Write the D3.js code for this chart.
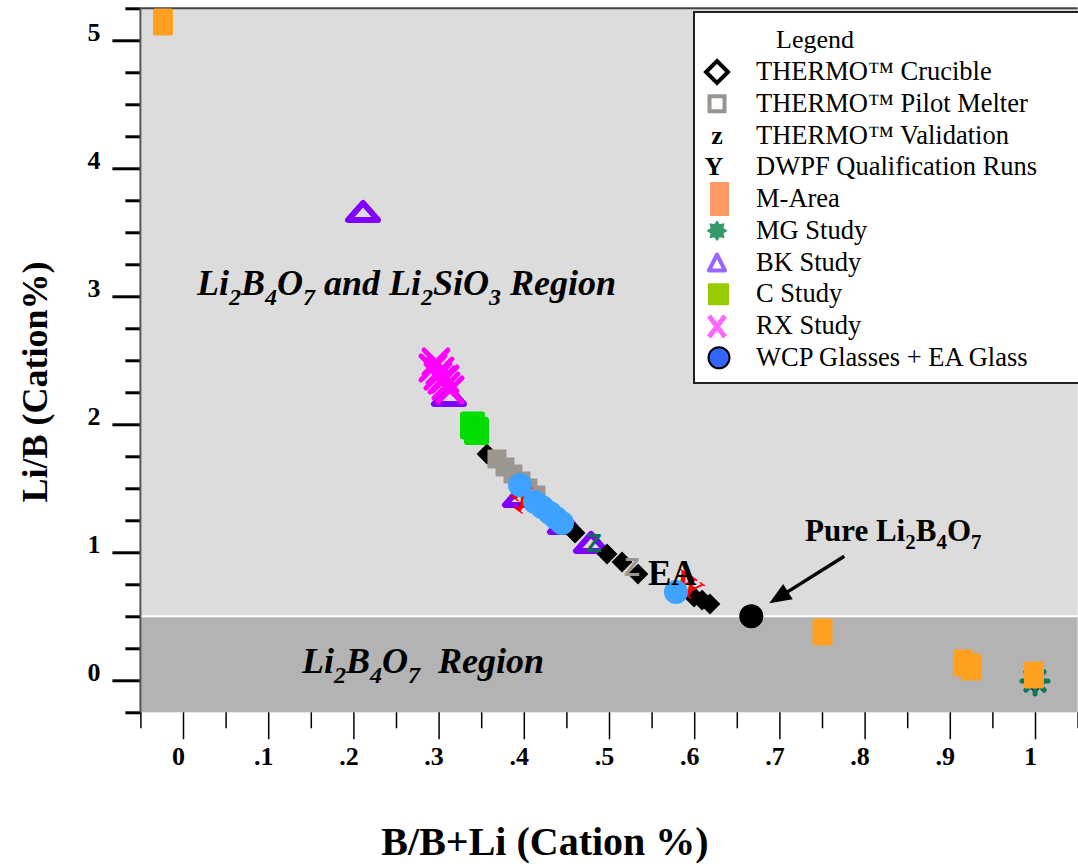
<!DOCTYPE html>
<html>
<head>
<meta charset="utf-8">
<script src="https://cdn.jsdelivr.net/npm/d3@7"></script>
<style>
  html, body { margin: 0; padding: 0; background: #fff; }
  svg { display: block; }
  svg text { font-family: "Liberation Serif", "Times New Roman", serif; }
  svg text.sans { font-family: "Liberation Sans", Arial, sans-serif; }
</style>
</head>
<body>
<svg id="chart" width="1078" height="867"></svg>
<script>
// ---- data: [B/(B+Li), Li/B] in cation % ----
const thermoCrucible = [
  [0.3568, 1.768], [0.4601, 1.151], [0.4977, 0.987], [0.5153, 0.924],
  [0.5340, 0.830], [0.5998, 0.651], [0.6092, 0.627], [0.6185, 0.596], [1.000, -0.020]
];
const thermoPilotMelter = [
  [0.3685, 1.729], [0.3779, 1.667], [0.3873, 1.612], [0.3967, 1.557], [0.4049, 1.502], [0.4143, 1.448]
];
const thermoValidationGrey = [[0.5270, 0.885]];
const thermoValidationTeal = [[0.4824, 1.073]];
const dwpfQualification = [[0.3955, 1.487], [0.4002, 1.393], [0.5880, 0.768], [0.5974, 0.729]];
const mArea = [[-0.0235, 5.143], [0.7506, 0.377], [0.9155, 0.135], [0.9249, 0.104], [0.9988, 0.041]];
const mgStudy = [[1.000, -0.005]];
const bkStudy = [[0.2113, 3.659], [0.3122, 2.221], [0.3955, 1.432], [0.4484, 1.221], [0.4789, 1.073]];
const cStudy = [[0.3398, 1.991], [0.3445, 1.948]];
const rxStudy = [
  [0.2969, 2.487], [0.2934, 2.440], [0.3016, 2.416], [0.2993, 2.377],
  [0.3040, 2.346], [0.3075, 2.354], [0.3087, 2.299], [0.3134, 2.268]
];
const wcpGlasses = [
  [0.3955, 1.526], [0.4131, 1.393], [0.4214, 1.354], [0.4307, 1.307],
  [0.4378, 1.268], [0.4448, 1.229], [0.5786, 0.690]
];
const pureLi2B4O7 = [0.667, 0.5];
const eaLabelAt = [0.5458, 0.745];
const regionBoundary = 0.5;

const xMajorTicks = [0, 0.1, 0.2, 0.3, 0.4, 0.5, 0.6, 0.7, 0.8, 0.9, 1];
const xMinorTicks = [-0.05, 0.05, 0.15, 0.25, 0.35, 0.45, 0.55, 0.65, 0.75, 0.85, 0.95, 1.05];
const yMajorTicks = [0, 1, 2, 3, 4, 5];
const yMinorTicks = [-0.25, 0.25, 0.5, 0.75, 1.25, 1.5, 1.75, 2.25, 2.5, 2.75, 3.25, 3.5, 3.75, 4.25, 4.5, 4.75, 5.25];

const legendTitle = "Legend";
const legendLabels = [
  "THERMO\u2122 Crucible", "THERMO\u2122 Pilot Melter", "THERMO\u2122 Validation",
  "DWPF Qualification Runs", "M-Area", "MG Study", "BK Study", "C Study",
  "RX Study", "WCP Glasses + EA Glass"
];

// ---- scales ----
const svg = d3.select("#chart");
const x = d3.scaleLinear().domain([-0.05, 1.05]).range([140.4, 1077.6]);
const y = d3.scaleLinear().domain([-0.25, 5.25]).range([712.3, 8.3]);
const [x0, x1] = x.range();
const yTop = y(5.25), yBot = y(-0.25);

// ---- phase regions ----
svg.append("rect").attr("x", x0).attr("y", yTop).attr("width", x1 - x0)
  .attr("height", y(regionBoundary) - yTop).attr("fill", "#dcdcdc");
svg.append("rect").attr("x", x0).attr("y", y(regionBoundary)).attr("width", x1 - x0)
  .attr("height", yBot - y(regionBoundary)).attr("fill", "#b3b3b3");
svg.append("line").attr("x1", x0).attr("x2", x1)
  .attr("y1", y(regionBoundary)).attr("y2", y(regionBoundary))
  .attr("stroke", "#fff").attr("stroke-width", 2);
svg.append("line").attr("x1", x0).attr("x2", x1).attr("y1", yTop).attr("y2", yTop)
  .attr("stroke", "#444").attr("stroke-width", 2);

// ---- axes ----
function styleAxis(g, width) {
  g.attr("font-family", null);
  g.select(".domain").remove();
  g.selectAll(".tick line").attr("stroke", "#000").attr("stroke-width", width);
  g.selectAll("text").attr("font-weight", "bold").attr("font-size", 26).attr("fill", "#000");
}
const yMinor = svg.append("g").attr("transform", `translate(${x0},0)`)
  .call(d3.axisLeft(y).tickValues(yMinorTicks).tickSize(15).tickFormat(""));
styleAxis(yMinor, 3);
const yMajor = svg.append("g").attr("transform", `translate(${x0},0)`)
  .call(d3.axisLeft(y).tickValues(yMajorTicks).tickSize(28).tickPadding(12).tickFormat(d3.format("d")));
styleAxis(yMajor, 3);
yMajor.selectAll("text").attr("dy", "0.02em");
svg.append("line").attr("x1", x0).attr("x2", x0).attr("y1", yTop).attr("y2", yBot)
  .attr("stroke", "#555").attr("stroke-width", 2);

const fmtX = d => d === 0 ? "0" : d === 1 ? "1" : d3.format(".1f")(d).replace(/^0/, "");
const xMinor = svg.append("g").attr("transform", `translate(0,${yBot})`)
  .call(d3.axisBottom(x).tickValues(xMinorTicks).tickSize(16).tickFormat(""));
styleAxis(xMinor, 1.5);
const xMajor = svg.append("g").attr("transform", `translate(0,${yBot})`)
  .call(d3.axisBottom(x).tickValues(xMajorTicks).tickSize(27).tickPadding(7).tickFormat(fmtX));
styleAxis(xMajor, 1.5);
xMajor.selectAll("text").attr("dx", -5);

// axis titles
svg.append("text").attr("transform", "translate(47,382) rotate(-90)")
  .attr("text-anchor", "middle").attr("font-weight", "bold").attr("font-size", 36)
  .text("Li/B (Cation%)");
svg.append("text").attr("x", 545).attr("y", 855)
  .attr("text-anchor", "middle").attr("font-weight", "bold").attr("font-size", 40)
  .text("B/B+Li (Cation %)");

// ---- text with chemical subscripts ----
function chemText(parent, px, py, parts, size, subSize, subShift, italic) {
  const t = parent.append("text").attr("x", px).attr("y", py)
    .attr("font-weight", "bold").attr("font-size", size)
    .attr("font-style", italic ? "italic" : "normal").style("white-space", "pre");
  let shifted = false;
  parts.forEach(p => {
    const isSub = /^[0-9]$/.test(p);
    const ts = t.append("tspan").text(p);
    if (isSub && !shifted) { ts.attr("dy", subShift).attr("font-size", subSize); shifted = true; }
    else if (isSub) { ts.attr("font-size", subSize); }
    else if (shifted) { ts.attr("dy", -subShift); shifted = false; }
  });
  return t;
}
chemText(svg, 197, 295, ["Li", "2", "B", "4", "O", "7", " and Li", "2", "SiO", "3", " Region"], 36, 24, 10, true);
chemText(svg, 302, 673, ["Li", "2", "B", "4", "O", "7", "  Region"], 36, 24, 10, true);

// ---- markers ----
const plot = svg.append("g");
const diamondPath = h => `M0,${-h}L${h},0L0,${h}L${-h},0Z`;
const at = d => `translate(${x(d[0])},${y(d[1])})`;

// BK Study
plot.selectAll(".bk").data(bkStudy).join("path").attr("transform", at)
  .attr("d", "M-15,8L15,8L0,-9Z").attr("fill", "none").attr("stroke", "#8000ff")
  .attr("stroke-width", 6).attr("stroke-linejoin", "round");

// THERMO Crucible
plot.selectAll(".cr").data(thermoCrucible).join("path").attr("transform", at)
  .attr("d", diamondPath(9)).attr("fill", "#000").attr("stroke", "#000").attr("stroke-width", 2);

// THERMO Pilot Melter
plot.selectAll(".pm").data(thermoPilotMelter).join("rect")
  .attr("x", d => x(d[0]) - 9.5).attr("y", d => y(d[1]) - 9.5)
  .attr("width", 19).attr("height", 19).attr("rx", 1).attr("fill", "#9b9690");

// DWPF Qualification Runs
plot.selectAll(".dw").data(dwpfQualification).join("text")
  .attr("transform", d => `${at(d)} rotate(35)`)
  .attr("text-anchor", "middle").attr("dy", "0.35em")
  .attr("font-weight", "bold").attr("font-size", 30).attr("fill", "#ff0000").text("Y");

// WCP Glasses + EA Glass
plot.selectAll(".wcp").data(wcpGlasses).join("circle")
  .attr("cx", d => x(d[0])).attr("cy", d => y(d[1])).attr("r", 12).attr("fill", "#3fa2ff");

// THERMO Validation
function zMarks(data, color) {
  plot.selectAll(null).data(data).join("text").attr("class", "sans").attr("transform", at)
    .attr("text-anchor", "middle").attr("dy", "0.36em")
    .attr("font-weight", "bold").attr("font-size", 26).attr("fill", color).text("Z");
}
zMarks(thermoValidationGrey, "#9b9690");
zMarks(thermoValidationTeal, "#0b6e58");

// C Study
plot.selectAll(".cs").data(cStudy).join("rect")
  .attr("x", d => x(d[0]) - 12.5).attr("y", d => y(d[1]) - 14)
  .attr("width", 25).attr("height", 28).attr("rx", 3).attr("fill", "#00dd00");

// RX Study
plot.selectAll(".rx").data(rxStudy).join("path").attr("transform", at)
  .attr("d", "M-12,-12L12,12M12,-12L-12,12").attr("stroke", "#ff00ff")
  .attr("stroke-width", 5).attr("stroke-linecap", "round");

// MG Study: eight-spoke stars
function spokes(g, r, color, w) {
  d3.range(8).forEach(i => {
    const a = i * Math.PI / 4;
    g.append("line").attr("x1", 0).attr("y1", 0)
      .attr("x2", r * Math.cos(a)).attr("y2", r * Math.sin(a))
      .attr("stroke", color).attr("stroke-width", w).attr("stroke-linecap", "round");
  });
}
plot.selectAll(".mg").data(mgStudy).join("g").attr("transform", at)
  .each(function () { spokes(d3.select(this), 13, "#0a7a5c", 5); });

// M-Area
plot.selectAll(".ma").data(mArea).join("rect")
  .attr("x", d => x(d[0]) - 10).attr("y", d => y(d[1]) - 13.5)
  .attr("width", 20).attr("height", 27).attr("rx", 2).attr("fill", "#ffa021");

// Pure Li2B4O7 reference point and arrow
const px = x(pureLi2B4O7[0]), py = y(pureLi2B4O7[1]);
plot.append("circle").attr("cx", px).attr("cy", py).attr("r", 12).attr("fill", "#000");
const ax0 = px + 93, ay0 = py - 60, ax1 = px + 18, ay1 = py - 13;
const ang = Math.atan2(ay1 - ay0, ax1 - ax0);
plot.append("line").attr("x1", ax0).attr("y1", ay0)
  .attr("x2", ax1 - 14 * Math.cos(ang)).attr("y2", ay1 - 14 * Math.sin(ang))
  .attr("stroke", "#000").attr("stroke-width", 3.5);
plot.append("path")
  .attr("transform", `translate(${ax1},${ay1}) rotate(${ang * 180 / Math.PI})`)
  .attr("d", "M0,0L-22,-9L-22,9Z").attr("fill", "#000");
chemText(svg, 805, 541, ["Pure Li", "2", "B", "4", "O", "7"], 31, 21, 8, false);

svg.append("text").attr("x", x(eaLabelAt[0])).attr("y", y(eaLabelAt[1]))
  .attr("font-weight", "bold").attr("font-size", 35).text("EA");

// ---- legend ----
const lg = svg.append("g");
lg.append("rect").attr("x", 694).attr("y", 12).attr("width", 400).attr("height", 371)
  .attr("fill", "#fff").attr("stroke", "#222").attr("stroke-width", 2);
lg.append("text").attr("x", 776).attr("y", 48).attr("font-size", 26).text(legendTitle);
const rowY = i => 80 + i * 31.75;
lg.selectAll(".lt").data(legendLabels).join("text")
  .attr("x", 756).attr("y", (d, i) => rowY(i)).attr("font-size", 26.5).text(d => d);

const sx = 717;
const sym = i => lg.append("g").attr("transform", `translate(${sx},${rowY(i) - 8})`);
sym(0).append("path").attr("d", diamondPath(11)).attr("fill", "#fff")
  .attr("stroke", "#000").attr("stroke-width", 4);
sym(1).append("rect").attr("x", -7.5).attr("y", -7.5).attr("width", 15).attr("height", 15)
  .attr("fill", "#fff").attr("stroke", "#999490").attr("stroke-width", 4);
sym(2).append("text").attr("text-anchor", "middle").attr("y", 8).attr("font-weight", "bold")
  .attr("font-size", 26).text("z");
sym(3).append("text").attr("x", -3).attr("text-anchor", "middle").attr("y", 8)
  .attr("font-weight", "bold").attr("font-size", 26).text("Y");
sym(4).append("rect").attr("x", -7).attr("y", -17).attr("width", 19).attr("height", 34)
  .attr("fill", "#ff9966");
const star = d3.range(16).map(k => {
  const r = k % 2 === 0 ? 10.5 : 7, a = k * Math.PI / 8 - Math.PI / 2;
  return [r * Math.cos(a), r * Math.sin(a)];
});
sym(5).append("path").attr("d", d3.line()(star) + "Z").attr("fill", "#339966");
sym(6).append("path").attr("d", "M-8,8L8,8L0,-8Z").attr("fill", "#fff")
  .attr("stroke", "#9966ff").attr("stroke-width", 4).attr("stroke-linejoin", "round");
sym(7).append("rect").attr("x", -9).attr("y", -11).attr("width", 21).attr("height", 22)
  .attr("rx", 1).attr("fill", "#99cc00");
sym(8).append("path").attr("d", "M-8,-10L8,11M8,-10L-8,11").attr("stroke", "#ff66ff")
  .attr("stroke-width", 5);
sym(9).append("circle").attr("cx", 2).attr("r", 10.5).attr("fill", "#3366ff")
  .attr("stroke", "#000").attr("stroke-width", 2);
</script>
</body>
</html>
